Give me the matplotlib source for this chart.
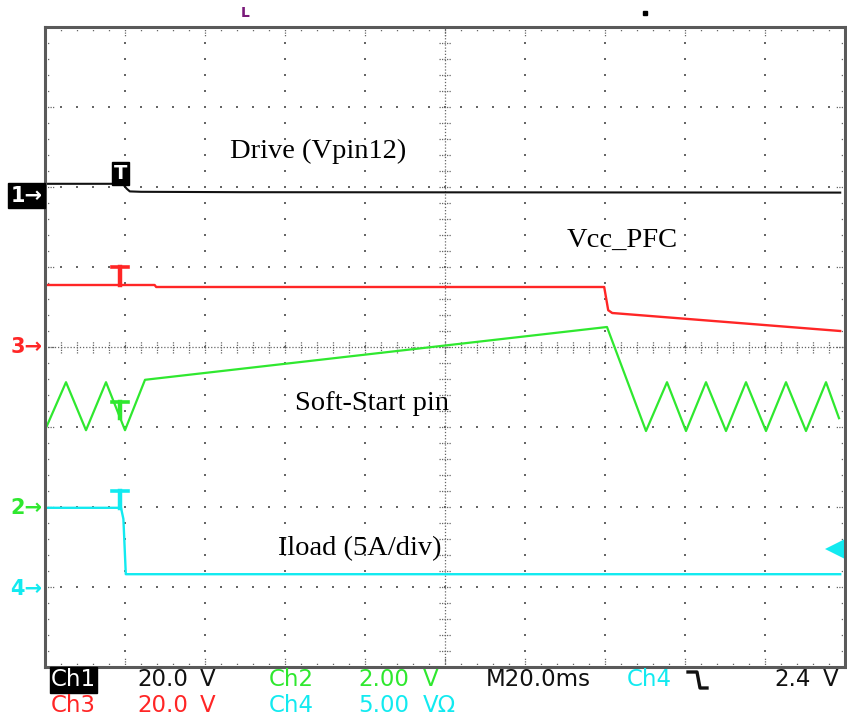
import numpy as np
import matplotlib
matplotlib.use("Agg")
import matplotlib.pyplot as plt
from matplotlib.lines import Line2D

# screen units: time in divisions from left edge, level in divisions from centre
ch1_t = [0, 0.92, 0.98, 1.02, 1.06, 1.2, 2.5, 9.94]
ch1_y = [2.04, 2.04, 2.03, 1.98, 1.945, 1.94, 1.935, 1.93]

ch3_t = [0, 1.37, 1.39, 6.99, 7.04, 7.09, 9.94]
ch3_y = [0.775, 0.775, 0.75, 0.75, 0.46, 0.425, 0.20]

ch2_t = [0, 0.2625, 0.5125, 0.7625, 1.0, 1.25, 7.025, 7.5125, 7.775, 8.0125,
         8.2625, 8.5125, 8.7625, 9.0125, 9.2625, 9.5125, 9.7625, 9.925]
ch2_y = [-1.04, -0.44, -1.04, -0.44, -1.04, -0.41, 0.25, -1.05, -0.44, -1.05,
         -0.44, -1.05, -0.44, -1.05, -0.44, -1.05, -0.44, -0.89]

ch4_t = [0, 0.95, 0.98, 1.01, 9.94]
ch4_y = [-2.01, -2.01, -2.15, -2.84, -2.84]

# ground reference markers on the left edge
gnd_labels = ["1", "3", "2", "4"]
gnd_levels = [1.89, 0.0, -2.01, -3.025]

# trigger "T" markers (top, bottom)
trig_t = 0.94
trig_ch3 = (1.0, 0.775)
trig_ch2 = (-0.69, -0.89)
trig_ch4 = (-1.8, -2.01)

BLACK = "#111111"
RED = "#ff2626"
GREEN = "#2fe82f"
CYAN = "#12eaf0"
GRID = "#666666"

W, H = 847, 715
fig = plt.figure(figsize=(W / 100, H / 100), dpi=100)
fig.patch.set_facecolor("white")
ax = fig.add_axes([45 / W, (H - 667) / H, 800 / W, 640 / H])
ax.set_xlim(0, 10)
ax.set_ylim(-4, 4)
ax.set_xticks([])
ax.set_yticks([])
for s in ax.spines.values():
    s.set_color("#5a5a5a")
    s.set_linewidth(2.2)

# graticule
fine_x = np.arange(0.2, 10, 0.2)
fine_y = np.arange(-3.8, 4, 0.2)
for i in range(1, 10):
    if i == 5:
        continue
    ax.plot(np.full_like(fine_y, i), fine_y, ls="none", marker="s", ms=1.6, color=GRID, mew=0)
for j in range(-3, 4):
    if j == 0:
        continue
    ax.plot(fine_x, np.full_like(fine_x, j), ls="none", marker="s", ms=1.6, color=GRID, mew=0)

ax.plot([0, 10], [0, 0], color=GRID, lw=0.9, ls=(0, (1, 1.5)))
ax.plot([5, 5], [-4, 4], color=GRID, lw=0.9, ls=(0, (1, 1.5)))
for x in fine_x:
    ax.plot([x, x], [-0.07, 0.07], color=GRID, lw=0.9, ls=(0, (1, 1)))
for y in fine_y:
    ax.plot([4.93, 5.07], [y, y], color=GRID, lw=0.9, ls=(0, (1, 1)))

# border ticks
for x in fine_x:
    L = 0.12 if abs(x - round(x)) < 1e-6 else 0.06
    ax.plot([x, x], [4, 4 - L], color=GRID, lw=0.9, ls=(0, (1, 1)))
    ax.plot([x, x], [-4, -4 + L], color=GRID, lw=0.9, ls=(0, (1, 1)))
for y in fine_y:
    L = 0.12 if abs(y - round(y)) < 1e-6 else 0.06
    ax.plot([0, L], [y, y], color=GRID, lw=0.9, ls=(0, (1, 1)))
    ax.plot([10, 10 - L], [y, y], color=GRID, lw=0.9, ls=(0, (1, 1)))

# traces
ax.plot(ch1_t, ch1_y, color=BLACK, lw=1.5)
ax.plot(ch3_t, ch3_y, color=RED, lw=1.7)
ax.plot(ch2_t, ch2_y, color=GREEN, lw=1.6)
ax.plot(ch4_t, ch4_y, color=CYAN, lw=1.7)

# trigger markers
for (top, bot), c in [(trig_ch3, RED), (trig_ch2, GREEN), (trig_ch4, CYAN)]:
    ax.plot([trig_t - 0.1, trig_t + 0.1], [top, top], color=c, lw=2.6)
    ax.plot([trig_t, trig_t], [top, bot], color=c, lw=3.2)
ax.text(trig_t, 2.17, "T", color="white", fontsize=14, fontweight="bold",
        ha="center", va="center",
        bbox=dict(boxstyle="square,pad=0.1", fc="black", ec="black"))

# ground markers
gnd_colors = [BLACK, RED, GREEN, CYAN]
for lab, lev, c in zip(gnd_labels, gnd_levels, gnd_colors):
    if c == BLACK:
        ax.text(-0.03, lev, lab + "\u2192", color="white", fontsize=15, fontweight="bold",
                ha="right", va="center", clip_on=False,
                bbox=dict(boxstyle="square,pad=0.12", fc="black", ec="black"))
    else:
        ax.text(-0.03, lev, lab + "\u2192", color=c, fontsize=15, fontweight="bold",
                ha="right", va="center", clip_on=False)

# ch4 trigger level arrow on the right
ax.plot([9.9, 10], [-2.525, -2.525], color=CYAN, lw=3, clip_on=False)
ax.plot([9.87], [-2.525], marker="<", ms=14, color=CYAN, mew=0, clip_on=False)

# cursor artifacts above the screen
ax.text(2.5, 4.17, "L", color="#7a1a7a", fontsize=10, fontweight="bold",
        ha="center", va="center", clip_on=False)
ax.plot([7.5], [4.17], marker="s", ms=3.5, color="black", clip_on=False)

# annotations
serif = "Liberation Serif"
ax.text(3.42, 2.44, "Drive (Vpin12)", family=serif, fontsize=20.5, ha="center", va="center")
ax.text(7.21, 1.33, "Vcc_PFC", family=serif, fontsize=20.5, ha="center", va="center")
ax.text(4.09, -0.70, "Soft-Start pin", family=serif, fontsize=20.5, ha="center", va="center")
ax.text(3.94, -2.52, "Iload (5A/div)", family=serif, fontsize=20.5, ha="center", va="center")


# status line
def ftext(x, y, s, c, **kw):
    fig.text(x / W, 1 - y / H, s, color=c, fontsize=16.5, ha="left", va="center",
             family="DejaVu Sans", **kw)


ftext(51, 680, "Ch1", "white", bbox=dict(boxstyle="square,pad=0.05", fc="black", ec="black"))
ftext(137, 680, "20.0", BLACK)
ftext(200, 680, "V", BLACK)
ftext(269, 680, "Ch2", GREEN)
ftext(358, 680, "2.00", GREEN)
ftext(423, 680, "V", GREEN)
ftext(486, 680, "M20.0ms", BLACK)
ftext(627, 680, "Ch4", CYAN)
ftext(774, 680, "2.4", BLACK)
ftext(823, 680, "V", BLACK)

ftext(51, 705, "Ch3", RED)
ftext(137, 705, "20.0", RED)
ftext(200, 705, "V", RED)
ftext(269, 705, "Ch4", CYAN)
ftext(358, 705, "5.00", CYAN)
ftext(423, 705, "V\u03a9", CYAN)

# falling-edge trigger symbol
xs = np.array([688, 697, 700, 707]) / W
ys = 1 - np.array([672, 672, 688, 688]) / H
fig.add_artist(Line2D(xs, ys, color=BLACK, lw=2.4, transform=fig.transFigure))

fig.savefig("out.png", dpi=100)
